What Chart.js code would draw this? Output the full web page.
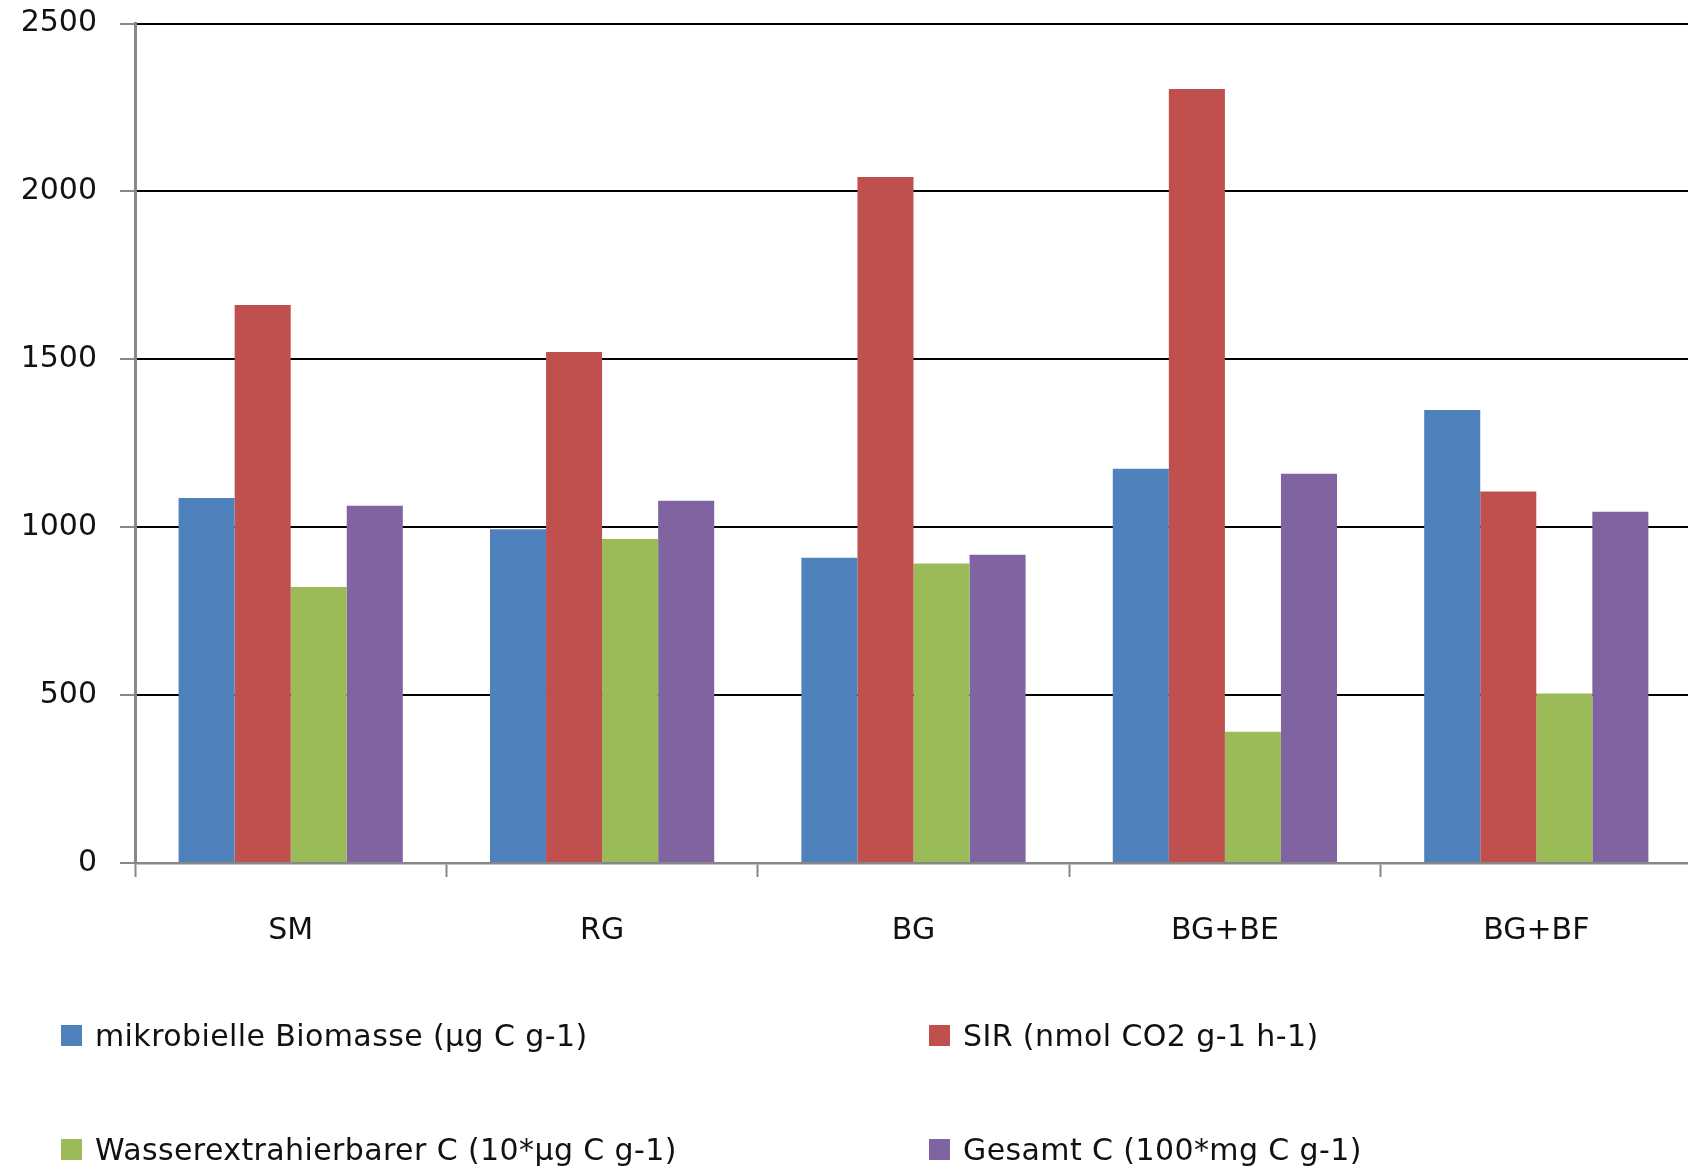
<!DOCTYPE html>
<html>
<head>
<meta charset="utf-8">
<script src="https://cdn.jsdelivr.net/npm/chart.js@4"></script>
<style>
  html, body { margin: 0; padding: 0; background: #fff; overflow: hidden; width: 1688px; height: 1169px; }
  #wrap { position: absolute; left: 0; top: 0; width: 1694px; height: 960px; }
  #legend { position: absolute; left: 0; top: 0; width: 1688px; height: 1169px; pointer-events: none;
            font-family: 'DejaVu Sans', sans-serif; font-size: 30px; letter-spacing: 0.4px; color: #111; }
  .item { position: absolute; display: flex; align-items: center; white-space: nowrap; }
  .box { width: 21px; height: 21px; margin-right: 13px; }
</style>
</head>
<body>
<div id="wrap"><canvas id="c" width="1694" height="960"></canvas></div>
<div id="legend"></div>
<script>
// Soil sample treatments
const categories = ['SM', 'RG', 'BG', 'BG+BE', 'BG+BF'];

// Measured quantities per treatment
const biomasse = [1087, 994, 909, 1174, 1349];
const sir = [1662, 1522, 2043, 2305, 1106];
const wasserC = [822, 965, 892, 391, 505];
const gesamtC = [1064, 1079, 918, 1159, 1046];

const seriesNames = [
  'mikrobielle Biomasse (µg C g-1)',
  'SIR (nmol CO2 g-1 h-1)',
  'Wasserextrahierbarer C (10*µg C g-1)',
  'Gesamt C (100*mg C g-1)'
];
const seriesColors = ['#4F81BD', '#C0504D', '#9BBB59', '#8064A2'];

const yTicks = [0, 500, 1000, 1500, 2000, 2500];

Chart.defaults.font.family = "'DejaVu Sans', sans-serif";
Chart.defaults.font.size = 30;
Chart.defaults.color = '#111';

const values = [biomasse, sir, wasserC, gesamtC];
const datasets = values.map((v, i) => ({
  label: seriesNames[i],
  data: v,
  backgroundColor: seriesColors[i],
  borderWidth: 0,
  categoryPercentage: 0.72,
  barPercentage: 1.0
}));

const chart = new Chart(document.getElementById('c'), {
  type: 'bar',
  data: { labels: categories, datasets },
  options: {
    responsive: false,
    animation: false,
    layout: { padding: { top: 23.5, right: 2, left: 0, bottom: 0 } },
    plugins: { legend: { display: false }, tooltip: { enabled: false } },
    scales: {
      x: {
        offset: true,
        grid: {
          offset: true,
          drawOnChartArea: false,
          drawTicks: true,
          tickLength: 14,
          tickColor: '#878787',
          tickWidth: 2
        },
        border: { color: '#878787', width: 2.5 },
        ticks: { padding: 36, color: '#111' },
        afterFit: s => { s.height = 97; }
      },
      y: {
        min: 0,
        max: 2500,
        afterBuildTicks: s => { s.ticks = yTicks.map(v => ({ value: v })); },
        grid: {
          color: '#000',
          lineWidth: 2,
          drawTicks: true,
          tickLength: 15,
          tickColor: '#878787',
          tickWidth: 2
        },
        border: { color: '#878787', width: 3 },
        ticks: { padding: 23, color: '#111', callback: v => String(v) },
        afterFit: s => { s.width = 135; s.paddingTop = 0; s.paddingBottom = 0; }
      }
    }
  }
});

// Two-column legend below the chart
const legend = document.getElementById('legend');
const slots = [
  { left: 61, top: 1025 },
  { left: 929, top: 1025 },
  { left: 61, top: 1139 },
  { left: 929, top: 1139 }
];
chart.data.datasets.forEach((ds, i) => {
  const item = document.createElement('div');
  item.className = 'item';
  item.style.left = slots[i].left + 'px';
  item.style.top = (slots[i].top - 8) + 'px';
  item.style.height = '37px';
  const box = document.createElement('div');
  box.className = 'box';
  box.style.background = ds.backgroundColor;
  const txt = document.createElement('span');
  txt.textContent = ds.label;
  item.appendChild(box);
  item.appendChild(txt);
  legend.appendChild(item);
});
</script>
</body>
</html>
